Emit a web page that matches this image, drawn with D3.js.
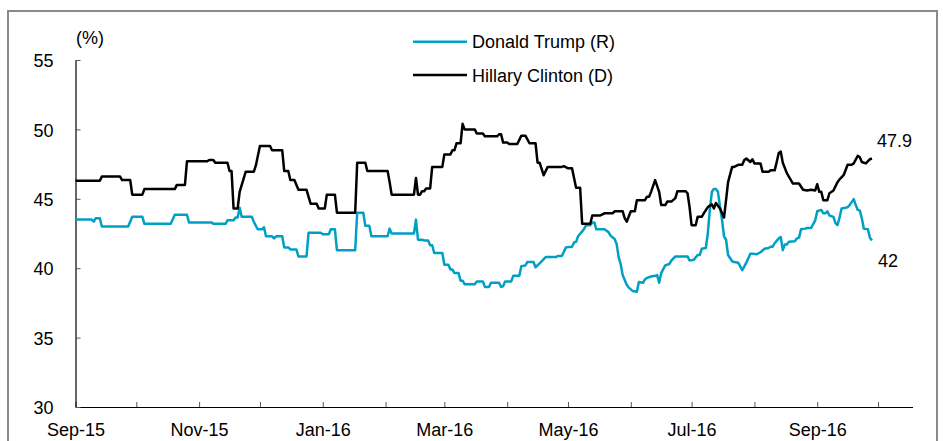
<!DOCTYPE html>
<html>
<head>
<meta charset="utf-8">
<script src="https://cdn.jsdelivr.net/npm/d3@7"></script>
<style>
  body { margin: 0; background: #fff; }
  svg text { font-family: "Liberation Sans", Arial, sans-serif; font-size: 18px; fill: #000; }
</style>
</head>
<body>
<div id="chart"></div>
<script>
// days counted from 1 Sep 2015
const startDate = new Date(2015, 8, 1);
const axisEnd = new Date(2016, 9, 18);

const seriesNames = ["Donald Trump (R)", "Hillary Clinton (D)"];
const yTicks = [30, 35, 40, 45, 50, 55];
const labelMonths = ["Sep-15", "Nov-15", "Jan-16", "Mar-16", "May-16", "Jul-16", "Sep-16"];

const trumpDays = [0,8,9,10,12,13,26,28,33,34,47,49,55,56,67,68,74,75,78,79,80,81,82,87,88,89,90,92,93,94,97,98,99,102,103,105,106,109,110,114,115,121,122,125,126,128,129,138,139,142,143,145,146,154,155,156,167,168,169,171,172,174,175,176,177,181,182,184,185,186,187,189,190,191,192,197,198,201,202,204,205,209,210,211,212,215,216,219,220,222,223,226,227,229,230,232,237,238,240,242,245,246,247,248,250,251,252,254,255,256,257,261,263,264,266,267,268,269,270,271,272,273,275,277,278,280,281,282,284,286,287,288,289,291,293,294,296,302,303,305,307,308,309,311,312,313,314,315,316,317,318,319,320,321,322,324,325,327,329,331,333,334,336,338,340,342,343,344,345,347,348,349,350,351,352,355,356,357,358,360,361,363,365,366,368,369,370,371,372,374,375,376,377,378,380,381,382,384,385,386,387,388,389,391,392,393];
const trumpValues = [43.5,43.5,43.35,43.6,43.6,43.0,43.0,43.7,43.7,43.2,43.2,43.85,43.85,43.3,43.3,43.2,43.2,43.45,43.45,43.65,43.65,44.35,43.7,43.7,43.35,43.05,42.8,42.8,42.95,42.3,42.3,42.15,42.3,42.3,41.5,41.5,41.35,41.35,40.85,40.85,42.55,42.55,42.45,42.45,42.8,42.8,41.3,41.3,44.0,44.0,43.05,43.05,42.3,42.3,42.85,42.5,42.5,43.5,42.05,42.05,42.0,42.0,41.65,41.65,41.1,41.1,40.25,40.25,39.9,39.9,39.65,39.65,39.1,39.1,38.85,38.85,39.05,39.05,38.65,38.65,38.95,38.95,38.65,38.7,39.05,39.05,39.45,39.45,40.15,40.2,40.45,40.45,40.07,40.35,40.5,40.8,40.8,40.88,40.88,41.5,41.55,41.85,41.9,42.3,42.65,42.85,43.1,43.1,43.3,43.3,42.8,42.8,42.6,42.35,42.1,41.75,40.8,40.3,39.5,39.15,38.8,38.6,38.35,38.3,39.0,38.95,39.2,39.3,39.4,39.45,39.5,38.95,39.65,40.2,40.3,40.55,40.85,40.85,40.55,40.6,40.95,40.95,41.4,41.45,42.5,44.2,45.5,45.7,45.7,45.5,44.45,43.5,42.3,42.05,40.95,40.5,40.45,40.4,39.85,40.4,41.05,41.05,41.0,41.15,41.4,41.45,41.55,41.55,41.8,42.15,42.25,41.3,41.7,41.7,41.9,41.95,42.15,42.2,42.8,42.85,42.9,42.9,43.45,44.1,44.2,43.95,43.95,44.1,43.8,43.7,43.25,43.1,43.65,44.3,44.35,44.4,44.55,44.98,44.55,44.2,44.15,43.6,42.85,42.8,42.2,42.0];

const clintonDays = [0,12,13,22,23,27,28,33,34,49,50,54,55,65,66,68,69,75,76,77,78,80,81,84,88,89,91,96,97,102,103,105,106,108,110,114,116,119,120,123,124,128,129,138,139,143,144,154,155,156,167,168,169,170,171,172,173,175,176,181,182,185,186,187,188,190,191,192,197,198,201,202,208,209,210,211,213,214,218,220,222,224,227,228,229,231,233,240,241,243,245,247,249,250,254,255,259,261,265,266,270,271,272,274,276,277,281,282,283,284,286,288,289,291,292,294,296,297,301,302,303,304,306,307,309,310,312,314,315,316,318,320,321,322,324,325,327,329,330,331,333,334,335,338,339,342,343,345,346,347,348,349,351,352,354,357,359,361,363,365,366,367,368,369,371,372,374,376,377,379,381,383,384,386,387,388,390,392,393];
const clintonValues = [46.3,46.3,46.6,46.6,46.35,46.35,45.3,45.3,45.7,45.7,46.0,46.0,47.7,47.7,47.8,47.8,47.6,47.6,47.0,47.0,44.3,44.3,45.5,46.95,46.95,47.4,48.8,48.8,48.5,48.5,47.0,47.0,46.35,46.35,45.65,45.65,44.65,44.65,44.3,44.3,45.3,45.3,44.0,44.0,47.6,47.6,47.0,47.0,46.2,45.3,45.3,46.5,45.3,45.3,45.55,45.55,45.75,45.75,47.3,47.3,48.2,48.2,48.5,48.5,49.0,49.0,50.4,50.0,50.0,49.7,49.7,49.5,49.5,49.65,49.65,49.05,49.05,48.95,48.95,49.55,49.55,49.0,49.0,47.6,47.6,46.7,47.3,47.3,47.35,47.2,47.2,45.8,45.8,43.2,43.2,43.8,43.8,43.95,43.95,44.1,44.1,43.6,43.35,44.1,44.1,44.9,44.9,45.15,45.15,45.5,46.35,45.5,44.55,44.55,44.8,44.8,45.05,45.55,45.55,45.4,44.4,43.1,43.1,43.7,43.7,43.95,44.4,44.6,44.3,44.7,44.3,43.65,44.9,46.2,47.3,47.3,47.45,47.45,47.8,47.9,47.65,47.85,47.55,47.55,46.95,46.95,47.05,47.05,47.65,48.3,48.4,47.6,46.85,46.6,46.1,46.1,45.65,45.6,45.65,45.6,46.05,45.5,45.5,44.9,44.9,45.4,45.6,46.2,46.4,46.7,47.45,47.45,47.55,48.1,48.0,47.65,47.55,47.85,47.9];

const lastLabels = ["47.9", "42"];

window.addEventListener("DOMContentLoaded", () => {
  const width = 943, height = 441;

  const svg = d3.select("#chart").append("svg")
    .attr("width", width)
    .attr("height", height);

  // frame
  svg.append("rect")
    .attr("x", 8).attr("y", 11)
    .attr("width", 929).attr("height", 445)
    .attr("fill", "none")
    .attr("stroke", "#8a8a8a")
    .attr("stroke-width", 2);

  const x = d3.scaleTime().domain([startDate, axisEnd]).range([75.5, 912.5]);
  const y = d3.scaleLinear().domain([30, 55]).range([407, 60]);

  const toPoints = (days, vals) => days.map((d, i) => ({ date: d3.timeDay.offset(startDate, d), v: vals[i] }));
  const trump = toPoints(trumpDays, trumpValues);
  const clinton = toPoints(clintonDays, clintonValues);

  // x axis, monthly ticks, label every other month
  const months = d3.timeMonth.range(startDate, d3.timeDay.offset(axisEnd, 1));
  const xAxis = d3.axisBottom(x)
    .tickValues(months)
    .tickSize(-5)
    .tickSizeOuter(0)
    .tickPadding(16)
    .tickFormat((d, i) => i % 2 === 0 ? labelMonths[i / 2] || "" : "");

  const gx = svg.append("g").attr("transform", "translate(0,407)").call(xAxis);
  gx.selectAll("text").style("font-size", "18px").style("font-family", '"Liberation Sans", Arial, sans-serif');

  const yAxis = d3.axisLeft(y)
    .tickValues(yTicks)
    .tickSize(-5)
    .tickSizeOuter(0)
    .tickPadding(22);

  const gy = svg.append("g").attr("transform", "translate(75.5,0)").call(yAxis);
  gy.selectAll("text").style("font-size", "18px").style("font-family", '"Liberation Sans", Arial, sans-serif').attr("dy", "0.37em");

  svg.selectAll(".domain").attr("stroke", "#000").attr("stroke-width", 1.2);
  svg.selectAll(".tick line").attr("stroke", "#555");

  svg.append("text").attr("x", 90).attr("y", 44).attr("text-anchor", "middle").text("(%)");

  const line = d3.line().x(d => x(d.date)).y(d => y(d.v));

  const colors = ["#00a0c6", "#000000"];
  [trump, clinton].forEach((s, i) => {
    svg.append("path")
      .datum(s)
      .attr("fill", "none")
      .attr("stroke", colors[i])
      .attr("stroke-width", 2.5)
      .attr("stroke-linejoin", "round")
      .attr("d", line);
  });

  // legend
  const legendY = [41.7, 75];
  seriesNames.forEach((name, i) => {
    svg.append("line")
      .attr("x1", 413).attr("x2", 467)
      .attr("y1", legendY[i]).attr("y2", legendY[i])
      .attr("stroke", colors[i]).attr("stroke-width", 2.5);
    svg.append("text")
      .attr("x", 472).attr("y", legendY[i] + 6.5)
      .text(name);
  });

  // end labels
  svg.append("text").attr("x", 877).attr("y", 147).text(lastLabels[0]);
  svg.append("text").attr("x", 878).attr("y", 267).text(lastLabels[1]);
});
</script>
</body>
</html>
